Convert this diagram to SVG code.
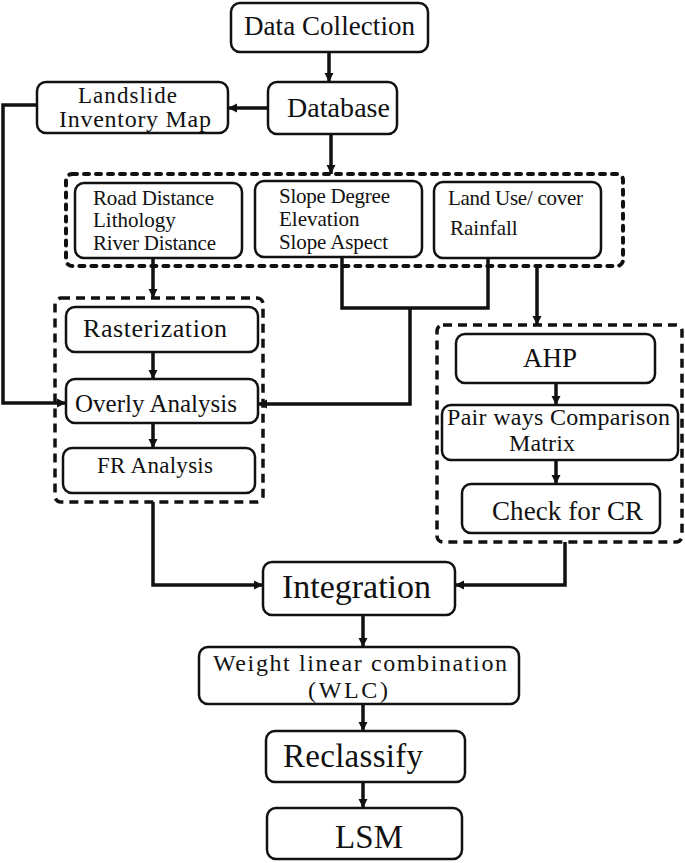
<svg xmlns="http://www.w3.org/2000/svg" width="685" height="863" viewBox="0 0 685 863">
<defs>
<style>
.box{fill:#fff;stroke:#111;stroke-width:2.5}
.dot{fill:none;stroke:#111;stroke-width:4;stroke-dasharray:5 7;stroke-linecap:round}
.dash{fill:none;stroke:#111;stroke-width:3.5;stroke-dasharray:9 6}
.con{fill:none;stroke:#111;stroke-width:3.5}
.arr{marker-end:url(#ah)}
text{font-family:'Liberation Serif','Times New Roman',Tinos,serif;fill:#111}
</style>
<marker id="ah" markerUnits="userSpaceOnUse" markerWidth="10" markerHeight="10" refX="9" refY="5" orient="auto">
<path d="M0,0.5 L9,5 L0,9.5 z" fill="#111"/>
</marker>
</defs>
<rect width="685" height="863" fill="#fff"/>

<g id="groups">
<rect id="factors" class="dot" x="66" y="174" width="557" height="92" rx="6"/>
<rect id="fr-group" class="dash" x="55" y="298" width="208" height="204" rx="6"/>
<rect id="ahp-group" class="dash" x="437" y="325" width="245" height="217" rx="6"/>
</g>

<g id="connectors">
<line class="con arr" x1="329" y1="52" x2="329" y2="82"/>
<line class="con arr" x1="268" y1="108" x2="228" y2="108"/>
<line class="con arr" x1="331" y1="134" x2="331" y2="174"/>
<polyline class="con arr" points="37,105 3,105 3,403 66,403"/>
<line class="con arr" x1="153" y1="258" x2="153" y2="298"/>
<polyline class="con" points="342,258 342,308 488,308 488,258"/>
<polyline class="con arr" points="410,308 410,404 258,404"/>
<line class="con arr" x1="537" y1="266" x2="537" y2="325"/>
<line class="con arr" x1="153" y1="352" x2="153" y2="379"/>
<line class="con arr" x1="153" y1="423" x2="153" y2="448"/>
<polyline class="con arr" points="153,502 153,585 263,585"/>
<polyline class="con arr" points="565,542 565,585 455,585"/>
<line class="con arr" x1="556" y1="383" x2="556" y2="405"/>
<line class="con arr" x1="556" y1="460" x2="556" y2="484"/>
<line class="con arr" x1="363" y1="615" x2="363" y2="647"/>
<line class="con arr" x1="363" y1="704" x2="363" y2="731"/>
<line class="con arr" x1="363" y1="782" x2="363" y2="808"/>
</g>

<g font-family="Liberation Serif, serif">
<g id="data-collection">
<rect class="box" x="231" y="3" width="197" height="49" rx="9"/>
<text x="244" y="35" font-size="27" textLength="171" lengthAdjust="spacing">Data Collection</text>
</g>
<g id="database">
<rect class="box" x="268" y="82" width="129" height="52" rx="9"/>
<text x="287" y="117" font-size="28" textLength="103" lengthAdjust="spacing">Database</text>
</g>
<g id="landslide-inventory">
<rect class="box" x="37" y="82" width="191" height="51" rx="9"/>
<text x="78" y="103" font-size="23" textLength="99" lengthAdjust="spacing">Landslide</text>
<text x="59" y="127" font-size="24" textLength="152" lengthAdjust="spacing">Inventory Map</text>
</g>
<g id="factor-1">
<rect class="box" x="75" y="183" width="167" height="75" rx="9"/>
<text x="93" y="205" font-size="21" textLength="121" lengthAdjust="spacing">Road Distance</text>
<text x="93" y="227" font-size="21">Lithology</text>
<text x="93" y="250" font-size="21" textLength="123" lengthAdjust="spacing">River Distance</text>
</g>
<g id="factor-2">
<rect class="box" x="255" y="181" width="167" height="76" rx="9"/>
<text x="279" y="203" font-size="21" textLength="111" lengthAdjust="spacing">Slope Degree</text>
<text x="279" y="226" font-size="21">Elevation</text>
<text x="279" y="249" font-size="21" textLength="109" lengthAdjust="spacing">Slope Aspect</text>
</g>
<g id="factor-3">
<rect class="box" x="434" y="182" width="167" height="76" rx="9"/>
<text x="448" y="205" font-size="21" textLength="135" lengthAdjust="spacing">Land Use/ cover</text>
<text x="450" y="235" font-size="21">Rainfall</text>
</g>
<g id="rasterization">
<rect class="box" x="66" y="307" width="192" height="45" rx="9"/>
<text x="83" y="337" font-size="26" textLength="144" lengthAdjust="spacing">Rasterization</text>
</g>
<g id="overly-analysis">
<rect class="box" x="66" y="379" width="192" height="44" rx="9"/>
<text x="75" y="412" font-size="25" textLength="162" lengthAdjust="spacing">Overly Analysis</text>
</g>
<g id="fr-analysis">
<rect class="box" x="63" y="448" width="192" height="45" rx="9"/>
<text x="97" y="473" font-size="23" textLength="116" lengthAdjust="spacing">FR Analysis</text>
</g>
<g id="ahp">
<rect class="box" x="456" y="334" width="199" height="49" rx="9"/>
<text x="523" y="367" font-size="27" textLength="54" lengthAdjust="spacing">AHP</text>
</g>
<g id="pairwise">
<rect class="box" x="442" y="405" width="236" height="55" rx="9"/>
<text x="447" y="425" font-size="24" textLength="223" lengthAdjust="spacing">Pair ways Comparison</text>
<text x="509" y="451" font-size="24" textLength="66" lengthAdjust="spacing">Matrix</text>
</g>
<g id="check-cr">
<rect class="box" x="462" y="484" width="198" height="49" rx="9"/>
<text x="492" y="520" font-size="27" textLength="151" lengthAdjust="spacing">Check for CR</text>
</g>
<g id="integration">
<rect class="box" x="263" y="562" width="192" height="53" rx="9"/>
<text x="282" y="598" font-size="34" textLength="149" lengthAdjust="spacing">Integration</text>
</g>
<g id="wlc">
<rect class="box" x="199" y="647" width="320" height="57" rx="9"/>
<text x="213" y="671" font-size="24" textLength="294" lengthAdjust="spacing">Weight linear combination</text>
<text x="308" y="698" font-size="24" textLength="80" lengthAdjust="spacing">(WLC)</text>
</g>
<g id="reclassify">
<rect class="box" x="266" y="731" width="199" height="51" rx="9"/>
<text x="283" y="767" font-size="33" textLength="140" lengthAdjust="spacing">Reclassify</text>
</g>
<g id="lsm">
<rect class="box" x="267" y="808" width="195" height="51" rx="9"/>
<text x="335" y="848" font-size="33" textLength="68" lengthAdjust="spacing">LSM</text>
</g>
</g>
</svg>
